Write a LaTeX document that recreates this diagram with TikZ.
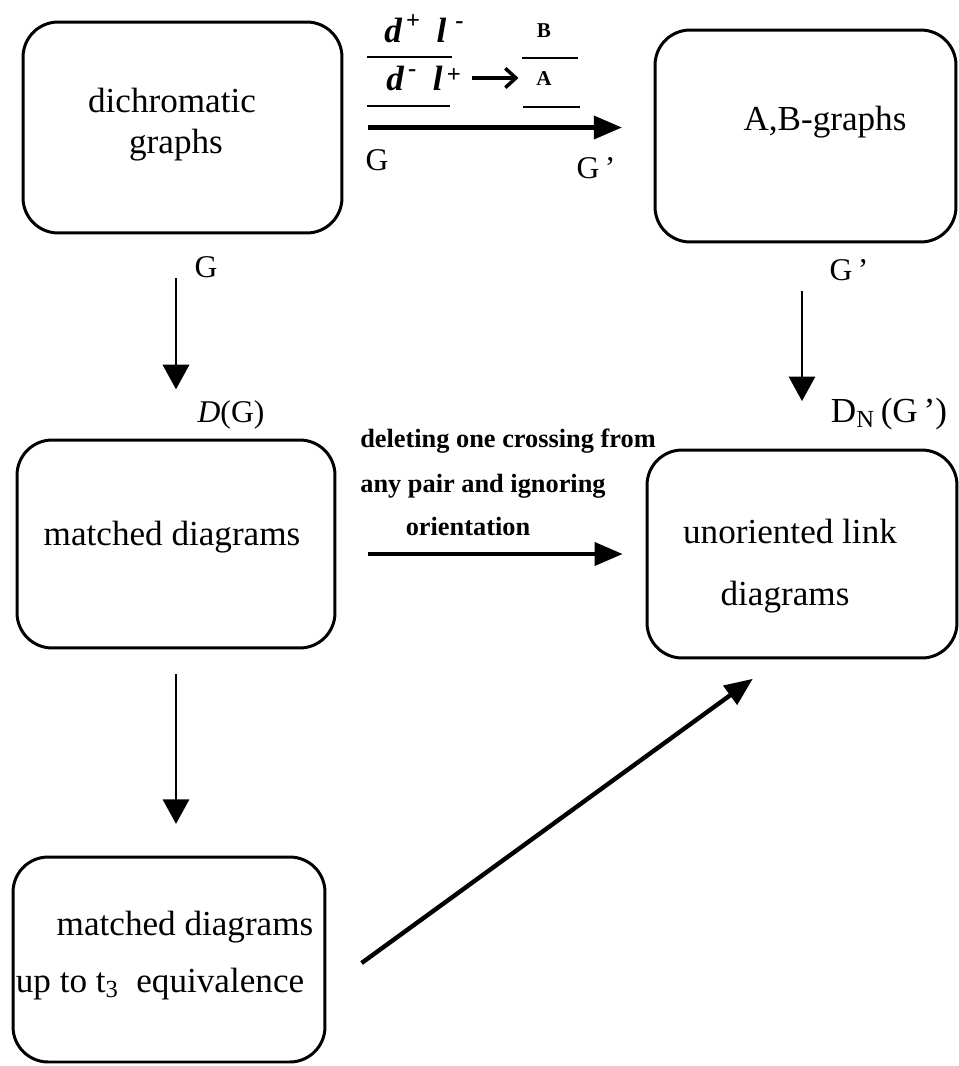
\documentclass[tikz,border=0pt]{standalone}
\usepackage{fontspec}
\setmainfont{Liberation Serif}
\usetikzlibrary{arrows.meta}

\tikzset{
  box/.style={draw, line width=1.7pt, rounded corners=20pt, inner sep=0pt},
  txt/.style={anchor=base, inner sep=0pt, font=\fontsize{20}{24}\selectfont},
  lbl/.style={anchor=base, inner sep=0pt, font=\fontsize{18}{22}\selectfont},
  heavy/.style={line width=2.5pt, -{Triangle[length=16pt,width=13pt]}},
  light/.style={line width=1.3pt, -{Triangle[length=14pt,width=15pt]}},
}

\begin{document}
\begin{tikzpicture}[x=0.02cm, y=-0.02cm]
  \useasboundingbox (0,0) rectangle (958,1066);

  \begin{scope}[every node/.style={box}]
    \node[minimum width=6.38cm, minimum height=4.22cm] (dich)  at (182.5,127.5) {};
    \node[minimum width=6.02cm, minimum height=4.24cm] (ab)    at (805.5,136)   {};
    \node[minimum width=6.36cm, minimum height=4.16cm] (match) at (176,544)     {};
    \node[minimum width=6.20cm, minimum height=4.16cm] (unor)  at (802,554)     {};
    \node[minimum width=6.24cm, minimum height=4.10cm] (upto)  at (169,959.5)   {};
  \end{scope}

  \begin{scope}[every node/.style={txt}]
    \node (dich1)  at (172,112) {dichromatic};
    \node (dich2)  at (176,153) {graphs};
    \node (ab1)    at (825,130) {A,B-graphs};
    \node (match1) at (172,545) {matched diagrams};
    \node (unor1)  at (790,543) {unoriented link};
    \node (unor2)  at (785,605) {diagrams};
    \node (upto1)  at (185,935) {matched diagrams};
    \node (upto2)  at (160,992) {up to t\textsubscript{3}~ equivalence};
  \end{scope}

  \begin{scope}[every node/.style={lbl}]
    \node (g1)  at (206,277) {G};
    \node (dg)  at (231,422) {\textit{D}(G)};
    \node (g2)  at (849,280) {G\,'};
    \node[font=\fontsize{20}{24}\selectfont] (dn) at (889,422) {D\textsubscript{N}\,(G\,')};
    \node (g3)  at (377,170) {G};
    \node (g4)  at (596,178) {G\,'};
  \end{scope}

  % d l fractions over the top arrow
  \begin{scope}[every node/.style={anchor=base west, inner sep=0pt,
      font=\fontsize{20}{24}\selectfont\bfseries\itshape}]
    \node (dpl) at (384,42) {d\textsuperscript{\upshape\,+}\hspace{9pt}l\textsuperscript{\upshape\hspace{5pt}-}};
    \node (dml) at (386,90) {d\textsuperscript{\upshape\,-}\hspace{9pt}l\raisebox{4pt}{\upshape\fontsize{14}{16}\selectfont\,+}};
  \end{scope}
  \begin{scope}[every node/.style={anchor=base, inner sep=0pt,
      font=\fontsize{12}{14}\selectfont\bfseries}]
    \node (nB) at (544,37) {B};
    \node (nA) at (544,85) {A};
  \end{scope}
  \begin{scope}[line width=1.2pt]
    \draw (367,57) -- (452,57);
    \draw (522,58) -- (578,58);
    \draw (367,106) -- (450,106);
    \draw (523,107) -- (580,107);
  \end{scope}
  \draw[line width=2pt, -{Straight Barb[length=6pt,width=11pt]}, shorten <=6pt, shorten >=10pt]
    (dml.east) -- (dml.east -| nA.west);

  \begin{scope}[every node/.style={anchor=base, inner sep=0pt,
      font=\fontsize{15}{18}\selectfont\bfseries}]
    \node (del1) at (508,447) {deleting one crossing from};
    \node (del2) at (483,492) {any pair and ignoring};
    \node (del3) at (468,535) {orientation};
  \end{scope}

  \draw[heavy, shorten <=14pt, shorten >=18pt] (dich.east) -- (dich.east -| ab.west);
  \draw[heavy, shorten <=18pt, shorten >=13pt] (unor.west -| match.east) -- (unor.west);
  \draw[light, shorten <=25pt, shorten >=28pt] (match.north |- dich.south) -- (match.north);
  \draw[light, shorten <=14pt, shorten >=18pt] (match.south) -- (match.south |- upto.north);
  \draw[light, shorten <=27pt, shorten >=27pt] (unor.north |- ab.south) -- (unor.north);
  \draw[heavy] ([xshift=20pt, yshift=-2pt]upto.east) -- ([xshift=-28pt, yshift=-11pt]unor.south);

\end{tikzpicture}
\end{document}
